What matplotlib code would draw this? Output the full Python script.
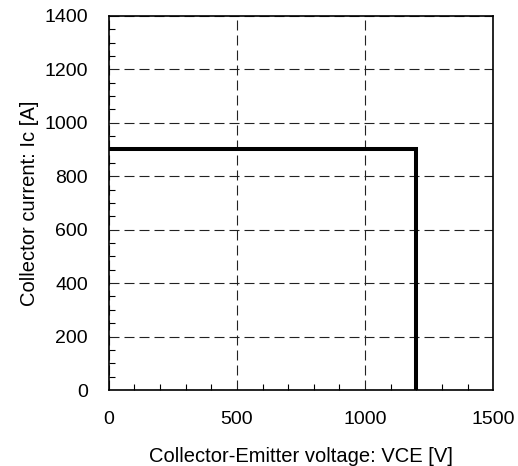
import matplotlib
matplotlib.use('Agg')
import matplotlib.pyplot as plt
from matplotlib.ticker import MultipleLocator

# Safe operating area boundary
vce = [0, 1200, 1200]
ic = [900, 900, 0]

x_ticks = [0, 500, 1000, 1500]
y_ticks = [0, 200, 400, 600, 800, 1000, 1200, 1400]

plt.rcParams['font.family'] = ['Liberation Sans', 'DejaVu Sans']
plt.rcParams['font.size'] = 14

fig = plt.figure(figsize=(5.18, 4.66), dpi=100)
ax = fig.add_axes([0.210, 0.163, 0.742, 0.803])

ax.plot(vce, ic, color='black', linewidth=2.9, solid_joinstyle='miter')

ax.set_xlim(0, 1500)
ax.set_ylim(0, 1400)
ax.set_xticks(x_ticks)
ax.set_yticks(y_ticks)
ax.xaxis.set_minor_locator(MultipleLocator(100))
ax.yaxis.set_minor_locator(MultipleLocator(50))
ax.tick_params(which='major', length=0, pad=15)
ax.tick_params(which='minor', direction='in', length=4, width=0.8)
ax.grid(True, which='major', color='#222222', linestyle=(0, (9, 4.5)), linewidth=0.8)

for s in ax.spines.values():
    s.set_linewidth(1.2)

ax.set_xlabel('Collector-Emitter voltage: VCE [V]', fontsize=14.5, labelpad=14)
ax.set_ylabel('Collector current: Ic [A]', fontsize=14.5, labelpad=4)

fig.savefig('out.png', dpi=100)
